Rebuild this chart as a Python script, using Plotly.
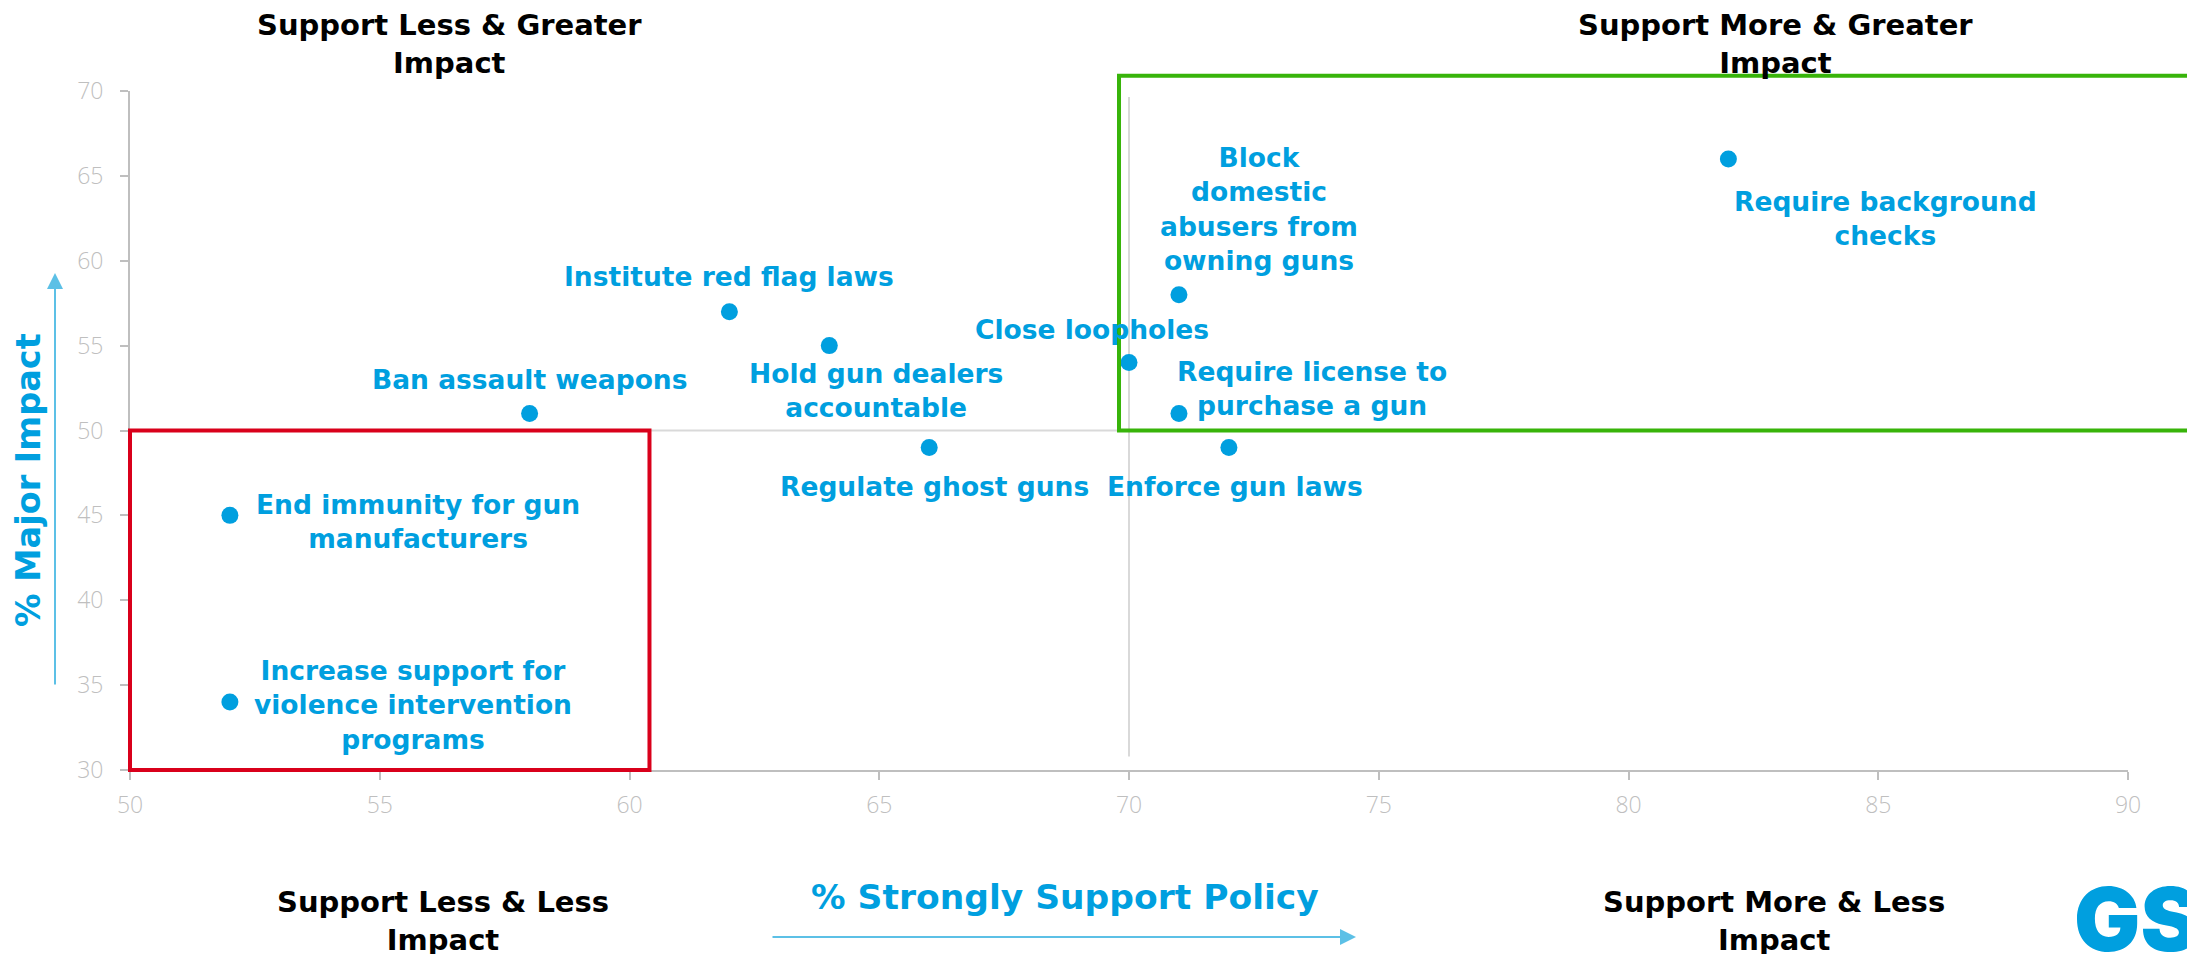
import plotly.graph_objects as go

# ---------------- data ----------------
policies = [
    "Ban assault weapons",
    "Institute red flag laws",
    "Hold gun dealers<br>accountable",
    "Regulate ghost guns",
    "Close loopholes",
    "Block<br>domestic<br>abusers from<br>owning guns",
    "Require license to<br>purchase a gun",
    "Enforce gun laws",
    "Require background<br>checks",
    "End immunity for gun<br>manufacturers",
    "Increase support for<br>violence intervention<br>programs",
]
strongly_support = [58, 62, 64, 66, 70, 71, 71, 72, 82, 52, 52]
major_impact = [51, 57, 55, 49, 54, 58, 51, 49, 66, 45, 34]

x_ticks = [50, 55, 60, 65, 70, 75, 80, 85, 90]
y_ticks = [30, 35, 40, 45, 50, 55, 60, 65, 70]

quadrant_titles = [
    "Support Less & Greater<br>Impact",
    "Support More & Greater<br>Impact",
    "Support Less & Less<br>Impact",
    "Support More & Less<br>Impact",
]
x_title = "% Strongly Support Policy"
y_title = "% Major Impact"
logo_text = "GSG"

# ---------------- layout / style ----------------
W, H = 2195, 954
OFF = 8  # page body margin
# plot area in page pixels: x 130..2128, y 91..770
ML = 130 - OFF
MT = 91 - OFF
MR = W + OFF - 2128
MB = H + OFF - 770
X_RANGE = [50, 90]
Y_RANGE = [30, 70]
MID_X, MID_Y = 70, 50

BLUE = "#009FDF"
ARROW_BLUE = "#5CC0E6"
GREY = "#BFBFBF"
LIGHT = "#D9D9D9"
RED = "#D9001B"
GREEN = "#38B40A"
LABEL_FONT = "DejaVu Sans"

# pixel offsets (dx right, dy up) of each label relative to its point
label_offsets = [
    (0, 34), (0, 35), (47, -45), (5, -39), (-37, 33), (80, 86),
    (133, 25), (6, -39), (157, -60), (188, -6), (183, -3),
]

plot_w = W - ML - MR
plot_h = H - MT - MB


def px_to_paper_x(px):
    # px: page pixel
    return (px - OFF - ML) / plot_w


def px_to_paper_y(py):
    return (H - MB - (py - OFF)) / plot_h


def val_to_paper_x(v):
    return (v - X_RANGE[0]) / (X_RANGE[1] - X_RANGE[0])


def val_to_paper_y(v):
    return (v - Y_RANGE[0]) / (Y_RANGE[1] - Y_RANGE[0])


fig = go.Figure()
fig.add_trace(go.Scatter(
    x=strongly_support, y=major_impact, mode="markers",
    marker=dict(size=17, color=BLUE, line=dict(width=0)),
    hoverinfo="skip", showlegend=False,
))

annotations = []
for xv, yv, txt, (dx, dy) in zip(strongly_support, major_impact, policies, label_offsets):
    annotations.append(dict(
        x=xv, y=yv, xref="x", yref="y", text=txt, showarrow=False,
        xshift=dx, yshift=dy, align="center", xanchor="center", yanchor="middle",
        font=dict(family=LABEL_FONT, size=26.5, color=BLUE, weight="bold"),
    ))

# quadrant titles
corner_pos = [(449, 44), (1775, 44), (443, 921), (1774, 921)]
for txt, (cx, cy) in zip(quadrant_titles, corner_pos):
    annotations.append(dict(
        x=px_to_paper_x(cx), y=px_to_paper_y(cy), xref="paper", yref="paper",
        text=txt, showarrow=False, align="center", xanchor="center", yanchor="middle",
        font=dict(family=LABEL_FONT, size=29, color="#000000", weight="bold"),
    ))

# axis titles
annotations.append(dict(
    x=px_to_paper_x(1065), y=px_to_paper_y(897), xref="paper", yref="paper",
    text=x_title, showarrow=False, xanchor="center", yanchor="middle",
    font=dict(family=LABEL_FONT, size=34.5, color=BLUE, weight="bold"),
))
annotations.append(dict(
    x=px_to_paper_x(28), y=px_to_paper_y(480), xref="paper", yref="paper",
    text=y_title, showarrow=False, textangle=-90, xanchor="center", yanchor="middle",
    font=dict(family=LABEL_FONT, size=33.5, color=BLUE, weight="bold"),
))

# arrows
annotations.append(dict(
    x=px_to_paper_x(1356), y=px_to_paper_y(937), xref="paper", yref="paper",
    ax=-585, ay=0, axref="pixel", ayref="pixel", text="", showarrow=True,
    arrowhead=2, arrowsize=1.6, arrowwidth=2, arrowcolor=ARROW_BLUE,
))
annotations.append(dict(
    x=px_to_paper_x(55), y=px_to_paper_y(273), xref="paper", yref="paper",
    ax=0, ay=413, axref="pixel", ayref="pixel", text="", showarrow=True,
    arrowhead=2, arrowsize=1.6, arrowwidth=2, arrowcolor=ARROW_BLUE,
))

# logo
annotations.append(dict(
    x=px_to_paper_x(2072), y=px_to_paper_y(919), xref="paper", yref="paper",
    text=logo_text, showarrow=False, xanchor="left", yanchor="middle",
    font=dict(family="Inter, Roboto, DejaVu Sans", size=88, color=BLUE, weight=900),
))

shapes = [
    # reference lines
    dict(type="line", xref="x", yref="y", x0=MID_X, x1=MID_X, y0=30.8, y1=69.65,
         line=dict(color=LIGHT, width=2), layer="below"),
    dict(type="line", xref="x", yref="y", x0=X_RANGE[0], x1=X_RANGE[1], y0=MID_Y, y1=MID_Y,
         line=dict(color=LIGHT, width=2), layer="below"),
    # red box (low support, low impact)
    dict(type="rect", xref="paper", yref="paper",
         x0=val_to_paper_x(50), x1=val_to_paper_x(60.4),
         y0=val_to_paper_y(30), y1=val_to_paper_y(50),
         line=dict(color=RED, width=4), fillcolor="rgba(0,0,0,0)", layer="above"),
    # green box (high support, high impact)
    dict(type="rect", xref="paper", yref="paper",
         x0=val_to_paper_x(69.8), x1=1.2,
         y0=val_to_paper_y(50), y1=val_to_paper_y(70.9),
         line=dict(color=GREEN, width=4), fillcolor="rgba(0,0,0,0)", layer="above"),
]

axis_common = dict(
    showgrid=False, zeroline=False, showline=True, linecolor=GREY, linewidth=2,
    ticks="outside", ticklen=8, tickwidth=2, tickcolor=GREY,
    tickfont=dict(family="Open Sans, Lato", size=23, color=GREY, weight=300),
    automargin=False, fixedrange=True,
)

fig.update_layout(
    width=W, height=H,
    margin=dict(l=ML, r=MR, t=MT, b=MB, pad=0),
    paper_bgcolor="white", plot_bgcolor="white",
    xaxis=dict(range=X_RANGE, tickvals=x_ticks, ticktext=[str(v) for v in x_ticks],
               ticklabelstandoff=5, **axis_common),
    yaxis=dict(range=Y_RANGE, tickvals=y_ticks, ticktext=[str(v) for v in y_ticks],
               ticklabelstandoff=12, **axis_common),
    annotations=annotations,
    shapes=shapes,
    showlegend=False,
)

fig.write_html("out.html")
